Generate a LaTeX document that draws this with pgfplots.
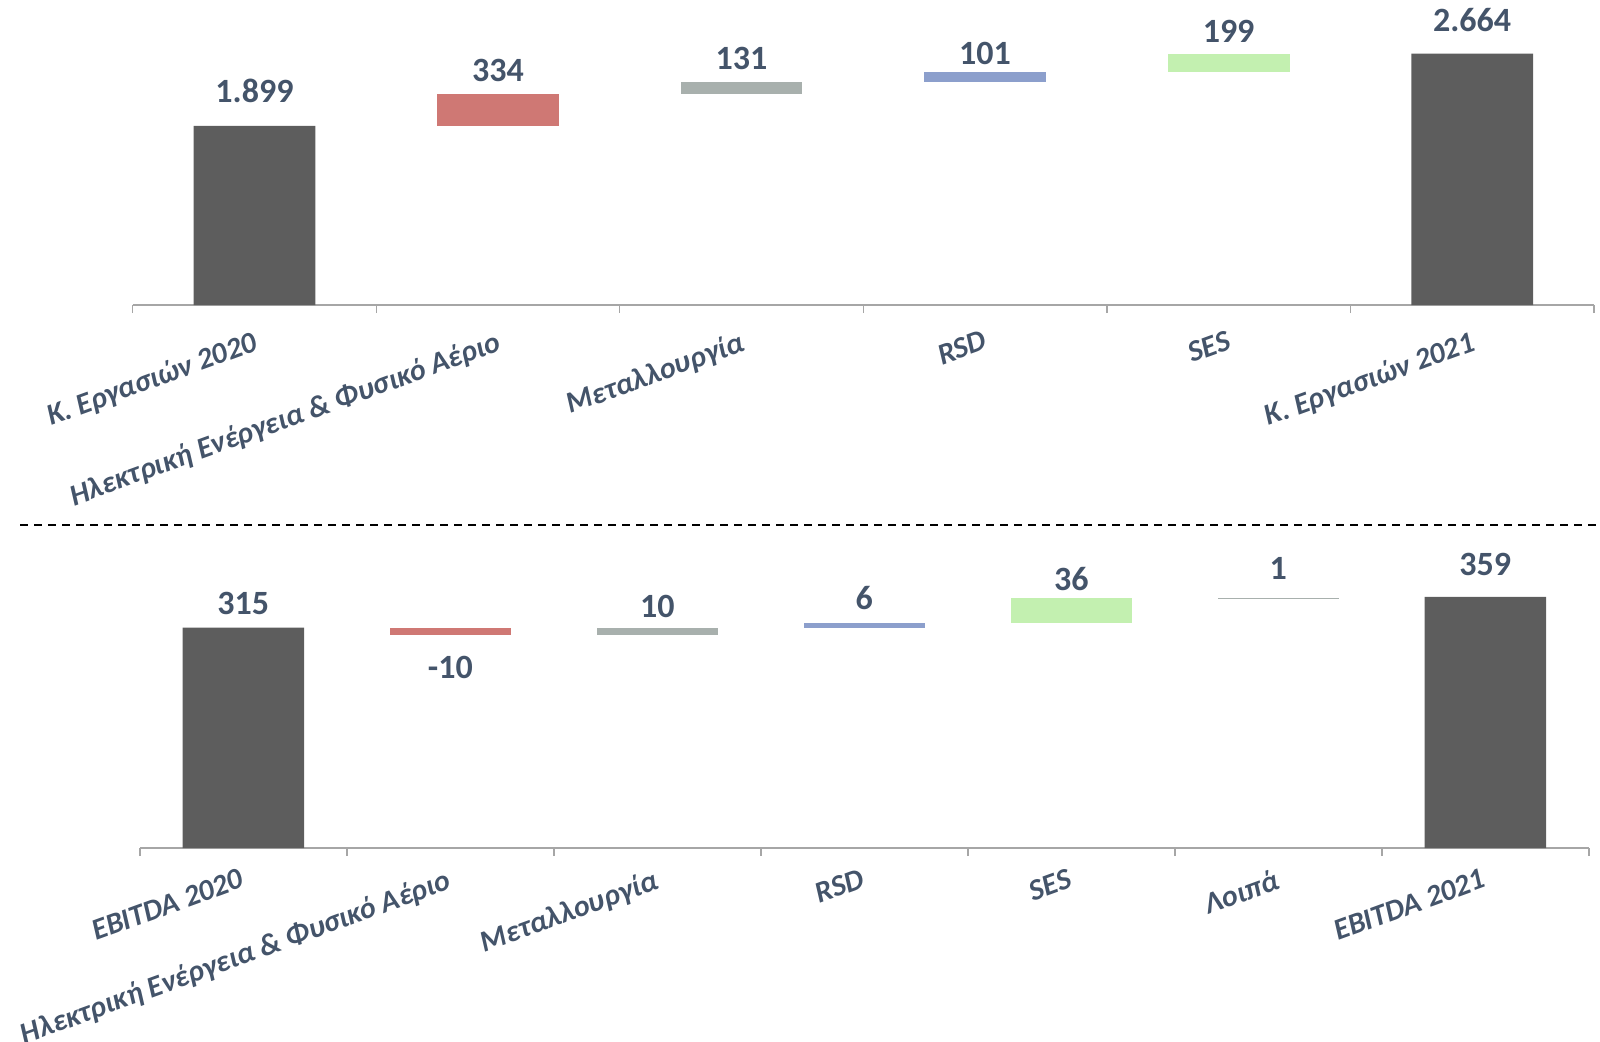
\documentclass[border=0pt]{standalone}
\usepackage{pgfplots}
\pgfplotsset{compat=1.18}
\usepackage{fontspec}
\setmainfont{Carlito}
\definecolor{darkbar}{HTML}{5D5D5D}
\definecolor{redbar}{HTML}{CF7874}
\definecolor{graybar}{HTML}{A8B0AD}
\definecolor{bluebar}{HTML}{8C9FCC}
\definecolor{greenbar}{HTML}{C3F0B0}
\definecolor{txt}{HTML}{44546A}
\definecolor{axgray}{HTML}{A6A6A6}
\pgfplotsset{
  wf/.style={
    ybar stacked, scale only axis, enlargelimits=false, clip=false,
    axis x line=bottom, axis y line=none,
    axis line style={-, draw=axgray, line width=0.7pt},
    ymin=0,
    major tick length=0pt,
    xticklabel style={rotate=20, anchor=north east, inner sep=0pt, yshift=-11pt, xshift=-5.5pt,
      font=\fontsize{15}{18}\selectfont\bfseries\itshape, text=txt},
    extra x tick style={major tick length=4pt, tick align=outside,
      tick style={draw=axgray, line width=0.7pt}},
    extra x tick labels={},
  },
}
\tikzset{lab/.style={font=\fontsize{17}{19}\selectfont\bfseries, text=txt, anchor=center}}
\begin{document}
\begin{tikzpicture}
\useasboundingbox (0,0) rectangle (800pt,520.5pt);
% ---------- top chart ----------
\begin{axis}[wf, bar width=0.5, at={(66.35pt,367.95pt)}, anchor=south west,
  width=730.6pt, height=136.9pt, xmin=-0.5, xmax=5.5, ymax=2900,
  xtick={0,1,2,3,4,5},
  xticklabels={{Κ. Εργασιών 2020},{Ηλεκτρική Ενέργεια \& Φυσικό Αέριο},{Μεταλλουργία},{RSD},{SES},{Κ. Εργασιών 2021}},
  extra x ticks={-0.5,0.5,1.5,2.5,3.5,4.5,5.5}]
\addplot[draw=none, fill=none] coordinates {(0,0) (1,1899) (2,2233) (3,2364) (4,2465) (5,0)};
\addplot[draw=none, fill=darkbar] coordinates {(0,1899) (1,0) (2,0) (3,0) (4,0) (5,2664)};
\addplot[draw=none, fill=redbar] coordinates {(0,0) (1,334) (2,0) (3,0) (4,0) (5,0)};
\addplot[draw=none, fill=graybar] coordinates {(0,0) (1,0) (2,131) (3,0) (4,0) (5,0)};
\addplot[draw=none, fill=bluebar] coordinates {(0,0) (1,0) (2,0) (3,101) (4,0) (5,0)};
\addplot[draw=none, fill=greenbar] coordinates {(0,0) (1,0) (2,0) (3,0) (4,199) (5,0)};
\node[lab] at (axis cs:0,2270) {1.899};
\node[lab] at (axis cs:1,2486) {334};
\node[lab] at (axis cs:2,2616) {131};
\node[lab] at (axis cs:3,2670) {101};
\node[lab] at (axis cs:4,2897) {199};
\node[lab] at (axis cs:5,3016) {2.664};
\end{axis}
% separator
\draw[black, line width=1pt, dash pattern=on 4pt off 3pt] (10.2pt,258.25pt) -- (800pt,258.25pt);
% ---------- bottom chart ----------
\begin{axis}[wf, bar width=0.587, at={(69.9pt,96.5pt)}, anchor=south west,
  width=724.5pt, height=139.9pt, xmin=-0.5, xmax=6.5, ymax=400,
  xticklabel style={yshift=2.5pt},
  xtick={0,1,2,3,4,5,6},
  xticklabels={{EBITDA 2020},{Ηλεκτρική Ενέργεια \& Φυσικό Αέριο},{Μεταλλουργία},{RSD},{SES},{Λοιπά},{EBITDA 2021}},
  extra x ticks={-0.5,0.5,1.5,2.5,3.5,4.5,5.5,6.5}]
\addplot[draw=none, fill=none] coordinates {(0,0) (1,305) (2,305) (3,315) (4,321) (5,357) (6,0)};
\addplot[draw=none, fill=darkbar] coordinates {(0,315) (1,0) (2,0) (3,0) (4,0) (5,0) (6,359)};
\addplot[draw=none, fill=redbar] coordinates {(0,0) (1,10) (2,0) (3,0) (4,0) (5,0) (6,0)};
\addplot[draw=none, fill=graybar] coordinates {(0,0) (1,0) (2,10) (3,0) (4,0) (5,0) (6,0)};
\addplot[draw=none, fill=bluebar] coordinates {(0,0) (1,0) (2,0) (3,6) (4,0) (5,0) (6,0)};
\addplot[draw=none, fill=greenbar] coordinates {(0,0) (1,0) (2,0) (3,0) (4,36) (5,0) (6,0)};
\addplot[draw=none, fill=graybar] coordinates {(0,0) (1,0) (2,0) (3,0) (4,0) (5,1) (6,0)};
\node[lab] at (axis cs:0,350) {315};
\node[lab] at (axis cs:1,258) {-10};
\node[lab] at (axis cs:2,346) {10};
\node[lab] at (axis cs:3,357) {6};
\node[lab] at (axis cs:4,385) {36};
\node[lab] at (axis cs:5,400) {1};
\node[lab] at (axis cs:6,405.6) {359};
\end{axis}
\end{tikzpicture}
\end{document}
